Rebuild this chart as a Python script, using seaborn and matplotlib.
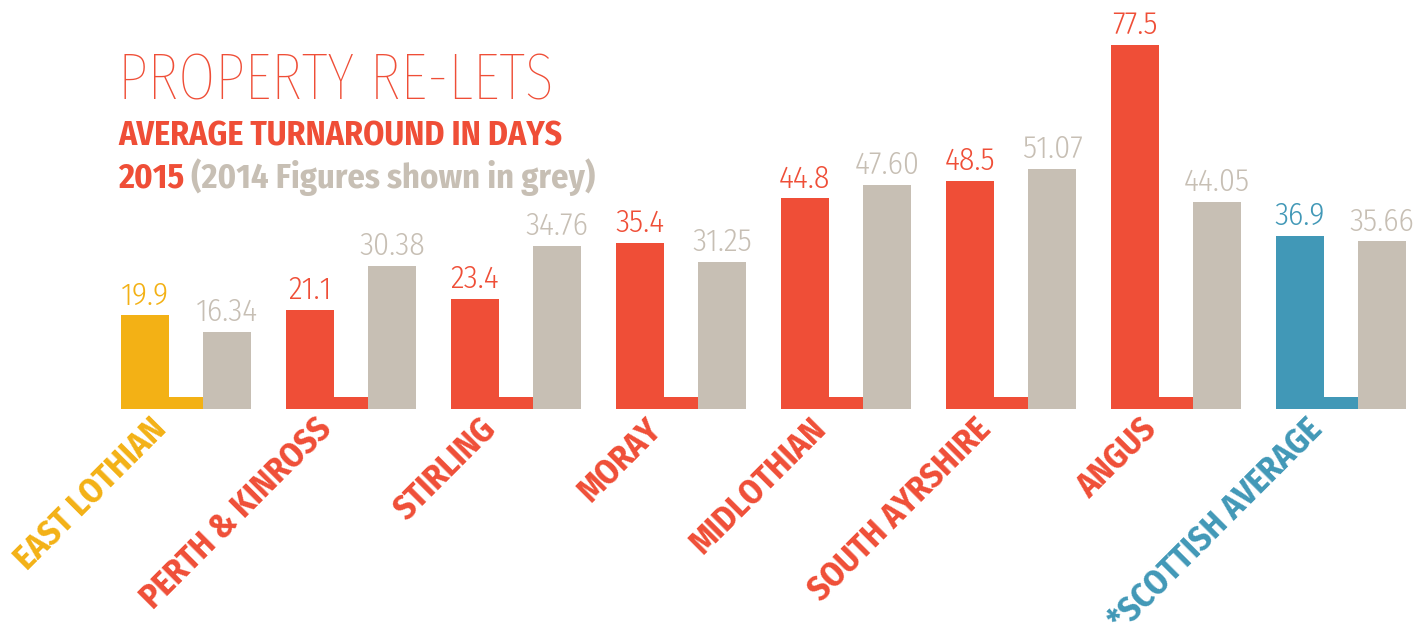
import matplotlib
matplotlib.use("Agg")
import matplotlib.pyplot as plt
import pandas as pd
import seaborn as sns

# ---- data ----
regions = ["EAST LOTHIAN", "PERTH & KINROSS", "STIRLING", "MORAY",
           "MIDLOTHIAN", "SOUTH AYRSHIRE", "ANGUS", "*SCOTTISH AVERAGE"]
days_2015 = [19.9, 21.1, 23.4, 35.4, 44.8, 48.5, 77.5, 36.9]
days_2014 = [16.34, 30.38, 34.76, 31.25, 47.60, 51.07, 44.05, 35.66]

YELLOW = "#F3B115"
RED = "#EF4E37"
GREY = "#C7BFB4"
BLUE = "#4198B7"
colours_2015 = [YELLOW] + [RED] * 6 + [BLUE]

df = pd.DataFrame({
    "region": regions * 2,
    "days": days_2015 + days_2014,
    "year": ["2015"] * len(regions) + ["2014"] * len(regions),
})

sns.set_style("white")
plt.rcParams["font.family"] = ["Fira Sans Condensed", "DejaVu Sans"]

W, H = 1427, 629
BASE_PX = 409          # baseline, px from top
PX_PER_DAY = 4.70
GROUP_PX = 165
FIRST_GROUP_PX = 186

fig = plt.figure(figsize=(W / 100, H / 100), dpi=100)
ax = fig.add_axes([0, (H - BASE_PX) / H, 1, BASE_PX / H])

sns.barplot(data=df, x="region", y="days", hue="year", hue_order=["2015", "2014"],
            palette={"2015": RED, "2014": GREY}, width=1.0, gap=0.42,
            saturation=1, errorbar=None, legend=False, ax=ax, linewidth=0)

bars_2015 = list(ax.containers[0])
bars_2014 = list(ax.containers[1])
for bar, c in zip(bars_2015, colours_2015):
    bar.set_facecolor(c)

# little foot strip joining each pair
for red, grey, c in zip(bars_2015, bars_2014, colours_2015):
    x0 = red.get_x() + red.get_width()
    ax.bar(x0, 2.6, width=grey.get_x() - x0, align="edge", color=c, linewidth=0)

# value labels
for bar, v, c in zip(bars_2015, days_2015, colours_2015):
    ax.text(bar.get_x() + bar.get_width() / 2, v + 2.3, f"{v:.1f}",
            ha="center", va="baseline", color=c, fontsize=23, fontweight=300)
for bar, v in zip(bars_2014, days_2014):
    ax.text(bar.get_x() + bar.get_width() / 2, v + 2.3, f"{v:.2f}",
            ha="center", va="baseline", color=GREY, fontsize=23, fontweight=300)

# rotated category labels
for bar, name, c in zip(bars_2015, regions, colours_2015):
    ax.text(bar.get_x() + bar.get_width() / 2 + 0.03, -0.8, name,
            rotation=45, rotation_mode="anchor", ha="right", va="top",
            color=c, fontsize=24.6, fontweight="bold", clip_on=False)

ax.set_xlim(-FIRST_GROUP_PX / GROUP_PX, (W - FIRST_GROUP_PX) / GROUP_PX)
ax.set_ylim(0, BASE_PX / PX_PER_DAY)
ax.axis("off")

# ---- titles ----
fig.text(118 / W, (H - 100) / H, "PROPERTY RE-LETS", color=RED, fontsize=47,
         fontweight=250, family=["Fira Sans Extra Condensed", "DejaVu Sans"],
         va="baseline", ha="left")
fig.text(118 / W, (H - 145) / H, "AVERAGE TURNAROUND IN DAYS", color=RED,
         fontsize=24.3, fontweight="bold", va="baseline", ha="left")
t1 = fig.text(118 / W, (H - 188) / H, "2015", color=RED, fontsize=24.8,
              fontweight="bold", va="baseline", ha="left")
fig.canvas.draw()
bb = t1.get_window_extent()
fig.text(bb.x1 / W, (H - 188) / H, " (2014 Figures shown in grey)", color=GREY,
         fontsize=24.8, fontweight="bold", va="baseline", ha="left")

fig.savefig("out.png", dpi=100)
